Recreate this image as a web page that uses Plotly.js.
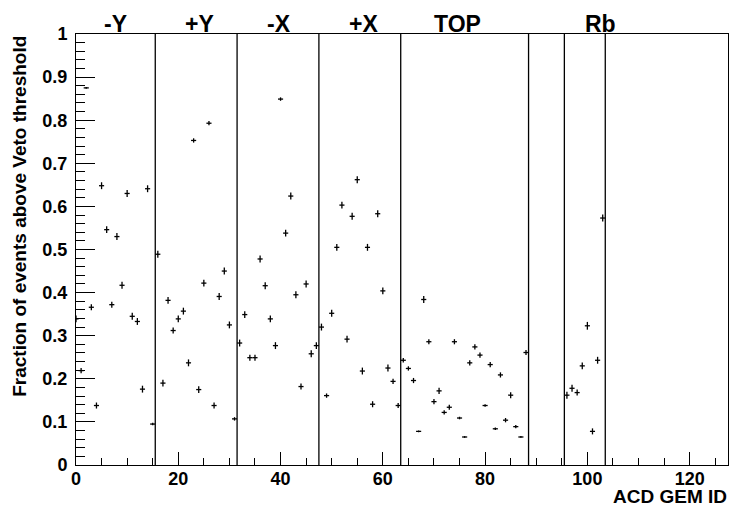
<!DOCTYPE html>
<html><head><meta charset="utf-8">
<script src="https://cdn.plot.ly/plotly-3.0.1.min.js"></script>
<style>html,body{margin:0;padding:0;background:#fff;} #chart{width:732px;height:508px;}</style>
</head><body><div id="chart"></div>
<script>
// ACD GEM ID of each filled bin
const gemId = [
  0,1,2,3,4,5,6,7,8,9,10,11,12,13,14,15,
  16,17,18,19,20,21,22,23,24,25,26,27,28,29,30,31,
  32,33,34,35,36,37,38,39,40,41,42,43,44,45,46,47,
  48,49,50,51,52,53,54,55,56,57,58,59,60,61,62,63,
  64,65,66,67,68,69,70,71,72,73,74,75,76,77,78,79,80,81,82,83,84,85,86,87,88,
  96,97,98,99,100,101,102,103
];
// fraction of events above veto threshold
const fraction = [
  0.339,0.219,0.875,0.366,0.138,0.648,0.546,0.372,0.530,0.417,0.630,0.345,0.333,0.176,0.641,0.095,
  0.489,0.190,0.382,0.312,0.339,0.357,0.237,0.753,0.175,0.422,0.793,0.138,0.391,0.450,0.325,0.107,
  0.283,0.349,0.249,0.249,0.478,0.416,0.339,0.277,0.849,0.538,0.624,0.395,0.182,0.420,0.258,0.277,
  0.320,0.161,0.352,0.505,0.603,0.292,0.577,0.662,0.218,0.505,0.141,0.583,0.404,0.225,0.194,0.138,
  0.243,0.224,0.196,0.078,0.384,0.286,0.147,0.172,0.122,0.134,0.286,0.109,0.065,0.237,0.274,0.255,0.138,0.233,0.084,0.209,0.104,0.162,0.089,0.065,0.261,
  0.162,0.178,0.168,0.230,0.323,0.078,0.243,0.573
];
// error on each fraction
const fractionErr = [
  0.008,0.006,0.002,0.007,0.007,0.008,0.008,0.007,0.008,0.008,0.008,0.008,0.008,0.008,0.008,0.003,
  0.008,0.008,0.008,0.007,0.008,0.008,0.008,0.005,0.008,0.008,0.005,0.007,0.008,0.008,0.008,0.004,
  0.008,0.008,0.007,0.007,0.008,0.008,0.008,0.008,0.004,0.008,0.008,0.008,0.007,0.008,0.008,0.008,
  0.008,0.005,0.008,0.008,0.008,0.008,0.008,0.008,0.008,0.008,0.007,0.008,0.008,0.008,0.006,0.006,
  0.005,0.005,0.006,0.002,0.008,0.006,0.006,0.007,0.005,0.006,0.006,0.003,0.002,0.006,0.006,0.006,0.003,0.006,0.003,0.006,0.005,0.007,0.004,0.002,0.006,
  0.008,0.008,0.007,0.008,0.009,0.007,0.008,0.008
];
// detector sections and their boundaries
const sectionLabels = ['-Y','+Y','-X','+X','TOP','Rb'];
const sectionEdges = [15.5,31.5,47.5,63.5,88.5,95.5,103.5];

const labelPos = [5,21,37,53,69.6,99.2];
const FONT = 'Liberation Sans, Arial, sans-serif';

const trace = {
  x: gemId, y: fraction, type: 'scatter', mode: 'markers',
  marker: {size: 1, color: 'rgba(0,0,0,0)'},
  error_x: {type: 'constant', value: 0.5, width: 0, thickness: 1.3, color: '#000'},
  error_y: {type: 'data', array: fractionErr, width: 0, thickness: 1.3, color: '#000'},
  showlegend: false, hoverinfo: 'x+y'
};

const shapes = sectionEdges.map(e => ({
  type: 'line', xref: 'x', yref: 'paper', x0: e, x1: e, y0: 0, y1: 1,
  line: {color: '#000', width: 1.3}
}));

const annotations = sectionLabels.map((t, i) => ({
  text: t, x: labelPos[i], xref: 'x', y: 1, yref: 'paper',
  xanchor: 'left', yanchor: 'bottom', showarrow: false, yshift: -5,
  font: {family: FONT, size: 23, weight: 'bold', color: '#000'}
}));
annotations.push({
  text: 'Fraction of events above Veto threshold', textangle: -90,
  x: -0.087, xref: 'paper', y: 1, yref: 'paper', xanchor: 'center', yanchor: 'top',
  showarrow: false, font: {family: FONT, size: 19, weight: 'bold', color: '#000'}
});
annotations.push({
  text: 'ACD GEM ID', x: 1, xref: 'paper', y: -0.099, yref: 'paper',
  xanchor: 'right', yanchor: 'bottom', showarrow: false, borderpad: 0,
  font: {family: FONT, size: 19, weight: 'bold', color: '#000'}
});

const layout = {
  width: 732, height: 508,
  margin: {l: 76, r: 4, t: 34, b: 43, pad: 0},
  paper_bgcolor: '#fff', plot_bgcolor: '#fff',
  font: {family: FONT, color: '#000'},
  xaxis: {
    range: [0, 127.5], showgrid: false, zeroline: false,
    showline: true, mirror: true, linecolor: '#000', linewidth: 1,
    ticks: 'inside', ticklen: 13, tickwidth: 1, tickcolor: '#000',
    dtick: 20, tick0: 0, ticklabelstandoff: -3,
    tickfont: {family: FONT, size: 18, weight: 'bold', color: '#000'},
    minor: {dtick: 5, ticklen: 7, ticks: 'inside', tickcolor: '#000', tickwidth: 1, showgrid: false}
  },
  yaxis: {
    range: [0, 1], showgrid: false, zeroline: false,
    showline: true, mirror: true, linecolor: '#000', linewidth: 1,
    ticks: 'inside', ticklen: 19, tickwidth: 1, tickcolor: '#000',
    dtick: 0.1, tick0: 0, ticklabelstandoff: 4,
    tickfont: {family: FONT, size: 18, weight: 'bold', color: '#000'},
    minor: {dtick: 0.02, ticklen: 9, ticks: 'inside', tickcolor: '#000', tickwidth: 1, showgrid: false}
  },
  shapes: shapes,
  annotations: annotations
};

Plotly.newPlot('chart', [trace], layout, {displayModeBar: false, staticPlot: true});
</script>
</body></html>
